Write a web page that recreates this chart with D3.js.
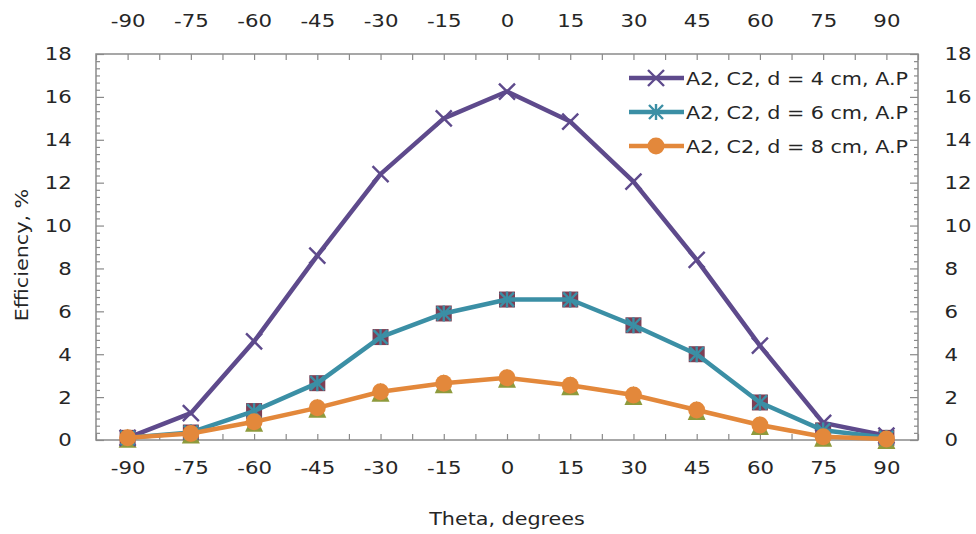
<!DOCTYPE html>
<html>
<head>
<meta charset="utf-8">
<script src="https://cdn.jsdelivr.net/npm/d3@7"></script>
<style>
  html, body { margin: 0; padding: 0; background: #ffffff; }
  svg { display: block; }
  text { font-family: "DejaVu Sans", Verdana, sans-serif; fill: #262626; }
</style>
</head>
<body>
<svg id="chart" width="976" height="534"></svg>
<script>
// Incidence angle (degrees)
const angles = [-90, -75, -60, -45, -30, -15, 0, 15, 30, 45, 60, 75, 90];
// Efficiency (%) for each source distance
const eff4cm = [0.1, 1.25, 4.6, 8.6, 12.4, 15.0, 16.25, 14.85, 12.05, 8.4, 4.4, 0.8, 0.2];
const eff6cm = [0.1, 0.35, 1.35, 2.65, 4.8, 5.9, 6.55, 6.55, 5.35, 4.0, 1.75, 0.45, 0.1];
const eff8cm = [0.1, 0.3, 0.85, 1.5, 2.25, 2.65, 2.9, 2.55, 2.1, 1.4, 0.7, 0.15, 0.05];
const yTicks = [0, 2, 4, 6, 8, 10, 12, 14, 16, 18];
const seriesNames = ["A2, C2, d = 4 cm, A.P", "A2, C2, d = 6 cm, A.P", "A2, C2, d = 8 cm, A.P"];

const svg = d3.select("#chart");
const L = 96, R = 918, T = 54, B = 440;
const SX = 1.15; // horizontal text stretch

const x = d3.scalePoint().domain(angles).range([L, R]).padding(0.5);
const y = d3.scaleLinear().domain([0, 18]).range([B, T]);
const xHalf = d3.scaleLinear().domain([0, angles.length]).range([L, R]);

const purple = "#5e4a8c", teal = "#3b8fa5", orange = "#e3883b";
const squareFill = "#7d3f55", triFill = "#8e9a3c";
const frameColor = "#8a8a8a";

// tick marks (inward)
const halfTicks = d3.range(0, angles.length + 0.01, 0.5);
function noLabels(g) { g.selectAll("text").remove(); g.select(".domain").remove(); }
svg.append("g").attr("transform", `translate(0,${B})`)
  .call(d3.axisBottom(xHalf).tickValues(halfTicks).tickSize(-6)).call(noLabels);
svg.append("g").attr("transform", `translate(0,${T})`)
  .call(d3.axisTop(xHalf).tickValues(halfTicks).tickSize(-6)).call(noLabels);
const minor = d3.range(0, 18.001, 1 / 3).filter(v => Math.abs(v / 2 - Math.round(v / 2)) > 0.01);
svg.append("g").attr("transform", `translate(${L},0)`)
  .call(d3.axisLeft(y).tickValues(minor).tickSize(-4)).call(noLabels);
svg.append("g").attr("transform", `translate(${R},0)`)
  .call(d3.axisRight(y).tickValues(minor).tickSize(-4)).call(noLabels);
svg.append("g").attr("transform", `translate(${L},0)`)
  .call(d3.axisLeft(y).tickValues(yTicks).tickSize(-8)).call(noLabels);
svg.append("g").attr("transform", `translate(${R},0)`)
  .call(d3.axisRight(y).tickValues(yTicks).tickSize(-8)).call(noLabels);
svg.selectAll("g line").attr("stroke", frameColor).attr("stroke-width", 1.2);

// tick labels
function styleLabels(g) {
  g.select(".domain").remove();
  g.selectAll("line").remove();
  g.selectAll("text").attr("font-family", "DejaVu Sans, Verdana, sans-serif")
    .attr("font-size", 18.5).attr("fill", "#262626")
    .attr("transform", `scale(${SX},1)`);
}
svg.append("g").attr("transform", `translate(0,${B})`)
  .call(d3.axisBottom(x).tickSize(0).tickPadding(21)).call(styleLabels);
svg.append("g").attr("transform", `translate(0,${T})`)
  .call(d3.axisTop(x).tickSize(0).tickPadding(27)).call(styleLabels);
svg.append("g").attr("transform", `translate(${L},0)`)
  .call(d3.axisLeft(y).tickValues(yTicks).tickSize(0).tickPadding(21)).call(styleLabels);
svg.append("g").attr("transform", `translate(${R},0)`)
  .call(d3.axisRight(y).tickValues(yTicks).tickSize(0).tickPadding(23)).call(styleLabels);

// frame
svg.append("rect").attr("x", L).attr("y", T).attr("width", R - L).attr("height", B - T)
  .attr("fill", "none").attr("stroke", frameColor).attr("stroke-width", 1.5);

// axis titles
svg.append("text").attr("transform", `translate(${(L + R) / 2},${525}) scale(${SX},1)`)
  .attr("text-anchor", "middle").attr("font-size", 18).text("Theta, degrees");
svg.append("text").attr("transform", `translate(${28},${(T + B) / 2 + 8}) rotate(-90) scale(${SX},1)`)
  .attr("text-anchor", "middle").attr("font-size", 18).text("Efficiency, %");

// marker helpers
function drawX(g, cx, cy, color, s) {
  g.append("path").attr("d", `M${cx - s},${cy - s}L${cx + s},${cy + s}M${cx - s},${cy + s}L${cx + s},${cy - s}`)
    .attr("stroke", color).attr("stroke-width", 2.4).attr("fill", "none");
}
function drawStar(g, cx, cy, color, s) {
  drawX(g, cx, cy, color, s);
  g.append("path").attr("d", `M${cx},${cy - s - 1}L${cx},${cy + s + 1}`)
    .attr("stroke", color).attr("stroke-width", 2.4);
}
function drawCircle(g, cx, cy, color, r) {
  g.append("circle").attr("cx", cx).attr("cy", cy).attr("r", r).attr("fill", color);
}

const plot = svg.append("g");
const pts = vals => angles.map((a, i) => [x(a), y(vals[i])]);
const line = d3.line();

// marker-only companions of the 6 cm and 8 cm series
pts(eff6cm).forEach(([cx, cy]) => plot.append("rect")
  .attr("x", cx - 8).attr("y", cy - 8).attr("width", 16).attr("height", 16).attr("fill", squareFill));
pts(eff8cm).forEach(([cx, cy]) => plot.append("path")
  .attr("d", `M${cx},${cy - 9}L${cx + 9},${cy + 10}L${cx - 9},${cy + 10}Z`).attr("fill", triFill));

// series lines
const series = [
  { vals: eff4cm, color: purple, marker: (g, cx, cy) => drawX(g, cx, cy, purple, 8) },
  { vals: eff6cm, color: teal, marker: (g, cx, cy) => drawStar(g, cx, cy, teal, 7) },
  { vals: eff8cm, color: orange, marker: (g, cx, cy) => drawCircle(g, cx, cy, orange, 8.5) }
];
series.forEach(s => {
  plot.append("path").attr("d", line(pts(s.vals))).attr("fill", "none")
    .attr("stroke", s.color).attr("stroke-width", 4.5).attr("stroke-linejoin", "round");
  pts(s.vals).forEach(([cx, cy]) => s.marker(plot, cx, cy));
});

// legend
const legend = svg.append("g");
series.forEach((s, i) => {
  const ly = 78 + i * 34;
  legend.append("line").attr("x1", 629).attr("x2", 684).attr("y1", ly).attr("y2", ly)
    .attr("stroke", s.color).attr("stroke-width", 4.5);
  s.marker(legend, 656, ly);
  legend.append("text").attr("transform", `translate(686,${ly + 7}) scale(${SX},1)`)
    .attr("font-size", 18).text(seriesNames[i]);
});
</script>
</body>
</html>
